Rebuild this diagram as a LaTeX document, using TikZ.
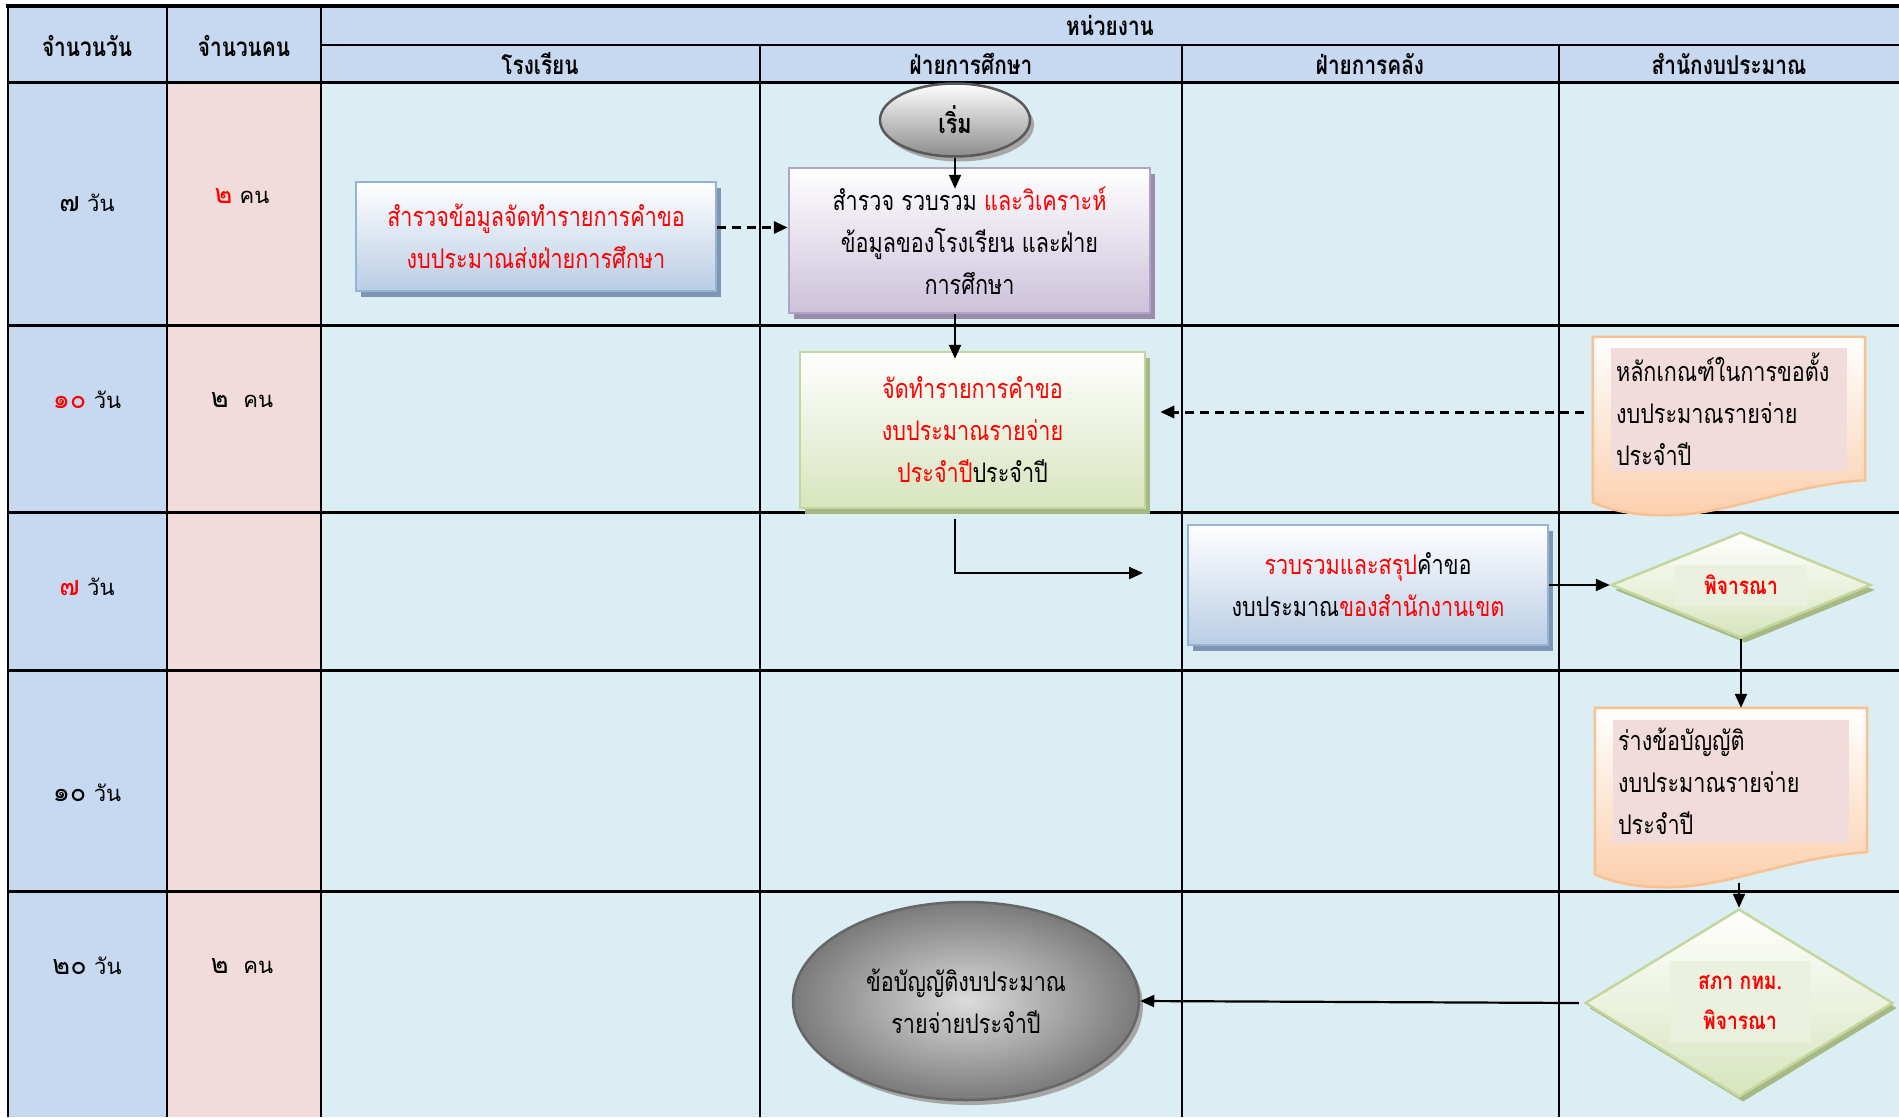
\documentclass[tikz,border=0pt]{standalone}
\usepackage{fontspec}
\newfontfamily\thai[Script=Thai,FakeStretch=0.8]{Loma}
\newfontfamily\thaiwide[Script=Thai]{Loma}
\usepackage{tikz}
\usetikzlibrary{positioning, shapes.geometric, arrows.meta, shadows}

\definecolor{hdrblue}{HTML}{C6D9F1}
\definecolor{daypink}{HTML}{F2DCDB}
\definecolor{lanecyan}{HTML}{DBEEF4}
\definecolor{boxblue}{HTML}{B9CDE5}
\definecolor{edgeblue}{HTML}{95B3D7}
\definecolor{shblue}{HTML}{7F96B2}
\definecolor{boxlilac}{HTML}{CCC1DA}
\definecolor{edgelilac}{HTML}{B3A2C7}
\definecolor{shlilac}{HTML}{9A8DAA}
\definecolor{boxgreen}{HTML}{D7E4BD}
\definecolor{edgegreen}{HTML}{C3D69B}
\definecolor{shgreen}{HTML}{A6B884}
\definecolor{docpeach}{HTML}{FBCFAC}
\definecolor{edgeorange}{HTML}{FAC090}
\definecolor{shorange}{HTML}{C9A283}
\definecolor{txtgreen}{HTML}{EBF1DE}

\newcommand{\thnum}[1]{{\fontsize{27}{26}\selectfont #1}}
\newcommand{\docoutline}[1]{(#1.north west) -- (#1.north east) -- ([yshift=35pt]#1.south east)
  .. controls ([xshift=-80pt,yshift=30pt]#1.south east) and ([xshift=130pt,yshift=-2pt]#1.south west) .. ([xshift=67pt]#1.south west)
  .. controls ([xshift=37pt]#1.south west) and ([xshift=12pt,yshift=7pt]#1.south west) .. ([yshift=13pt]#1.south west) -- cycle}

\begin{document}
\begin{tikzpicture}[x=1pt, y=-1pt,
    grid/.style = {line width=2.5pt},
    hdr/.style = {font=\thai\bfseries\fontsize{26}{28}\selectfont},
    rowlbl/.style = {font=\thaiwide\fontsize{22}{26}\selectfont},
    flowtxt/.style = {font=\thai\fontsize{27}{42}\selectfont, align=center, inner sep=0pt},
    bluebox/.style = {flowtxt, draw=edgeblue, line width=2.5pt, top color=white, bottom color=boxblue,
      drop shadow={shadow xshift=5pt, shadow yshift=-6pt, fill=shblue, opacity=1}},
    lilacbox/.style = {flowtxt, draw=edgelilac, line width=2.5pt, top color=white, bottom color=boxlilac,
      drop shadow={shadow xshift=5pt, shadow yshift=-6pt, fill=shlilac, opacity=1}},
    greenbox/.style = {flowtxt, draw=edgegreen, line width=2.5pt, top color=white, bottom color=boxgreen,
      drop shadow={shadow xshift=5pt, shadow yshift=-6pt, fill=shgreen, opacity=1}},
    decision/.style = {diamond, draw=edgegreen, line width=2.5pt, top color=white, bottom color=boxgreen, inner sep=0pt, aspect=2,
      drop shadow={shadow xshift=4pt, shadow yshift=-5pt, fill=shgreen, opacity=1}},
    decisiontxt/.style = {flowtxt, font=\thai\bfseries\fontsize{24}{40}\selectfont, text=red, fill=txtgreen, fill opacity=0.9, text opacity=1},
    docframe/.style = {inner sep=0pt},
    docshape/.style = {draw=edgeorange, line width=2.5pt, top color=white, bottom color=docpeach},
    doctxt/.style = {flowtxt, align=left, fill=daypink, text width=226pt, minimum width=236pt, inner xsep=4pt},
    startnode/.style = {ellipse, draw=black!65, line width=2.5pt, top color=white, bottom color=black!45, inner sep=0pt,
      drop shadow={shadow xshift=4pt, shadow yshift=-5pt, fill=black!35, opacity=1}},
    endnode/.style = {ellipse, flowtxt, draw=black!60, line width=2.5pt, inner sep=0pt,
      inner color=black!14, outer color=black!52,
      drop shadow={shadow xshift=4pt, shadow yshift=-5pt, fill=black!35, opacity=1}},
    flowarrow/.style = {line width=2.2pt, -{Triangle[length=14pt,width=12pt]}},
    dasharrow/.style = {flowarrow, dash pattern=on 9pt off 6pt, line width=3pt}
  ]
  \useasboundingbox (0,0) rectangle (1899,1117);
  \fill[hdrblue] (8,6) rectangle (1899,82);
  \fill[hdrblue] (8,82) rectangle (167,1117);
  \fill[daypink] (167,82) rectangle (321,1117);
  \fill[lanecyan] (321,82) rectangle (1899,1117);
  \draw[grid, line width=3.5pt] (6,6) -- (1899,6);
  \draw[grid] (321,45) -- (1899,45);
  \foreach \y in {82,325,512,670,891}
    \draw[grid, line width=3pt] (8,\y) -- (1899,\y);
  \foreach \x in {8,167,321}
    \draw[grid] (\x,6) -- (\x,1117);
  \foreach \x in {760,1182,1559}
    \draw[grid, line width=2pt] (\x,45) -- (\x,1117);

  \node[hdr] (hDays) at (87,46) {จำนวนวัน};
  \node[hdr] (hStaff) at (244,46) {จำนวนคน};
  \node[hdr] (hUnit) at (1110,25) {หน่วยงาน};
  \node[hdr] (hSchool) at (540,64) {โรงเรียน};
  \node[hdr] (hEdu) at (971,64) {ฝ่ายการศึกษา};
  \node[hdr] (hFin) at (1370,64) {ฝ่ายการคลัง};
  \node[hdr] (hBudget) at (1729,64) {สำนักงบประมาณ};

  \node[rowlbl] (dayA) at (87,203) {\thnum{๗} วัน};
  \node[rowlbl] (staffA) at (242,196) {\textcolor{red}{\thnum{๒}} คน};
  \node[rowlbl] (dayB) at (87,400) {\textcolor{red}{\thnum{๑๐}} วัน};
  \node[rowlbl] (staffB) at (242,400) {\thnum{๒} \ คน};
  \node[rowlbl] (dayC) at (87,587) {\textcolor{red}{\thnum{๗}} วัน};
  \node[rowlbl] (dayD) at (87,793) {\thnum{๑๐} วัน};
  \node[rowlbl] (dayE) at (87,966) {\thnum{๒๐} วัน};
  \node[rowlbl] (staffE) at (242,966) {\thnum{๒} \ คน};

  \node[startnode, minimum width=150pt, minimum height=73pt, font=\thai\bfseries\fontsize{27}{30}\selectfont] (start) at (955,120) {เริ่ม};
  \node[bluebox, text=red, minimum width=360pt, minimum height=109pt] (school) at (536,236.5)
    {สำรวจข้อมูลจัดทำรายการคำขอ\\งบประมาณส่งฝ่ายการศึกษา};
  \node[lilacbox, minimum width=361pt, minimum height=145pt] (collect) at (969.5,240.5)
    {สำรวจ รวบรวม \textcolor{red}{และวิเคราะห์}\\ข้อมูลของโรงเรียน และฝ่าย\\การศึกษา};
  \node[greenbox, minimum width=345pt, minimum height=156pt] (prepare) at (972.5,430)
    {\textcolor{red}{จัดทำรายการคำขอ}\\\textcolor{red}{งบประมาณรายจ่าย}\\\textcolor{red}{ประจำปี}ประจำปี};
  \node[bluebox, minimum width=360pt, minimum height=120pt] (summary) at (1368,585)
    {\textcolor{red}{รวบรวมและสรุป}คำขอ\\งบประมาณ\textcolor{red}{ของสำนักงานเขต}};

  \node[docframe, minimum width=272pt, minimum height=178pt] (critDoc) at (1729,426) {};
  \draw[docshape, draw=none, fill=shorange, top color=shorange, bottom color=shorange, xshift=3pt, yshift=-5pt] \docoutline{critDoc};
  \draw[docshape] \docoutline{critDoc};
  \node[doctxt, minimum height=123pt] (crit) at (1729,409.5) {หลักเกณฑ์ในการขอตั้ง\\งบประมาณรายจ่าย\\ประจำปี};

  \node[decision, minimum width=260pt, minimum height=106pt] (review) at (1741,585) {};
  \node[decisiontxt, minimum width=132pt, minimum height=41pt] (reviewTxt) at (review) {พิจารณา};

  \node[docframe, minimum width=272pt, minimum height=179pt] (draftDoc) at (1731,797.5) {};
  \draw[docshape, draw=none, fill=shorange, top color=shorange, bottom color=shorange, xshift=3pt, yshift=-5pt] \docoutline{draftDoc};
  \draw[docshape] \docoutline{draftDoc};
  \node[doctxt, minimum height=123pt] (draft) at (1731,781.5) {ร่างข้อบัญญัติ\\งบประมาณรายจ่าย\\ประจำปี};

  \node[decision, minimum width=308pt, minimum height=188pt] (council) at (1739,1003) {};
  \node[decisiontxt, minimum width=141pt, minimum height=82pt] (councilTxt) at (1740,1002) {สภา กทม.\\พิจารณา};

  \node[endnode, minimum width=346pt, minimum height=198pt] (act) at (966,1001) {ข้อบัญญัติงบประมาณ\\รายจ่ายประจำปี};

  \coordinate (sumIn) at (1143,573);
  \draw[dasharrow] ([yshift=9pt]school.east) -- ([yshift=9pt]school.east -| collect.west);
  \draw[flowarrow] (start.south) -- ([yshift=-22pt]start.south |- collect.north);
  \draw[flowarrow] (start.south |- collect.south) -- ([yshift=-8pt]start.south |- prepare.north);
  \draw[dasharrow, shorten <=9pt, shorten >=14pt] ([yshift=14pt]critDoc.west) -- ([yshift=14pt]critDoc.west -| prepare.east);
  \draw[flowarrow] ([yshift=-10pt]start.south |- prepare.south) |- (sumIn);
  \draw[flowarrow] (summary.east) -- (review.west);
  \draw[flowarrow] (review.south) -- (review.south |- draftDoc.north);
  \draw[flowarrow] ([yshift=4pt]council.north |- draftDoc.south) -- (council.north);
  \draw[flowarrow] ([xshift=-5pt]council.west) -- (act.east);
\end{tikzpicture}
\end{document}
